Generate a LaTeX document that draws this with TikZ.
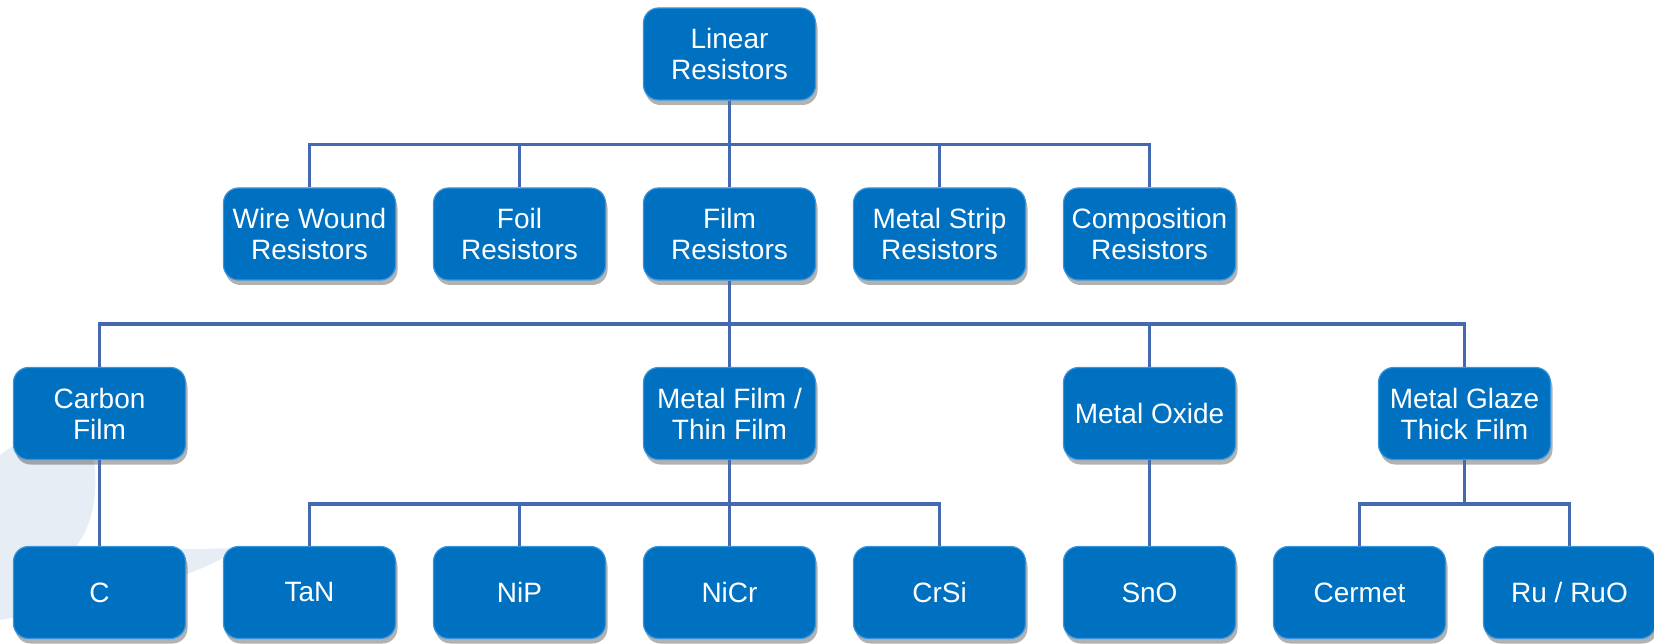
\documentclass[tikz,border=0pt]{standalone}
\usepackage{fontspec}
\setmainfont{Liberation Sans}
\usepackage{tikz}
\usetikzlibrary{shadows}

\definecolor{boxblue}{RGB}{0,112,192}
\definecolor{rimblue}{RGB}{60,150,220}
\definecolor{linkblue}{RGB}{68,105,176}
\definecolor{swoosh}{RGB}{230,237,244}

\begin{document}
\begin{tikzpicture}[
    x=1pt, y=-1pt,
    res/.style={rectangle, rounded corners=15pt, fill=boxblue, draw=rimblue, line width=1.2pt,
        minimum width=172pt, minimum height=92pt, inner sep=0pt, align=center, text=white,
        font=\fontsize{28}{31}\selectfont,
        drop shadow={shadow xshift=2pt, shadow yshift=-5pt, opacity=0.3, fill=black}},
    link/.style={draw=linkblue, line width=3.5pt}
]
\useasboundingbox (0,0) rectangle (1654,644);

% faint background swoosh
\fill[swoosh] (0,455) .. controls (30,430) and (90,420) .. (95,470)
    .. controls (98,510) and (85,540) .. (70,552) -- (240,548)
    .. controls (200,575) and (120,600) .. (0,620) -- cycle;

% Level 0
\node[res] (lin) at (729.5,54) {Linear\\Resistors};

% Level 1
\node[res] (ww)   at (309.5,234)  {Wire Wound\\Resistors};
\node[res] (foil) at (519.5,234)  {Foil\\Resistors};
\node[res] (film) at (729.5,234)  {Film\\Resistors};
\node[res] (ms)   at (939.5,234)  {Metal Strip\\Resistors};
\node[res] (comp) at (1149.5,234) {Composition\\Resistors};

% Level 2
\node[res] (cf)  at (99.5,413.5)   {Carbon\\Film};
\node[res] (mf)  at (729.5,413.5)  {Metal Film /\\Thin Film};
\node[res] (mo)  at (1149.5,413.5) {Metal Oxide};
\node[res] (mg)  at (1464.5,413.5) {Metal Glaze\\Thick Film};

% Level 3
\node[res] (c)    at (99.5,592.5)   {C};
\node[res] (tan)  at (309.5,592.5)  {TaN};
\node[res] (nip)  at (519.5,592.5)  {NiP};
\node[res] (nicr) at (729.5,592.5)  {NiCr};
\node[res] (crsi) at (939.5,592.5)  {CrSi};
\node[res] (sno)  at (1149.5,592.5) {SnO};
\node[res] (cer)  at (1359.5,592.5) {Cermet};
\node[res] (ru)   at (1569.5,592.5) {Ru / RuO};

% Connectors
\foreach \k in {ww,foil,film,ms,comp}
    \draw[link] (lin.south) -- (lin.south |- 0,144.5) -| (\k.north);
\foreach \k in {cf,mf,mo,mg}
    \draw[link] (film.south) -- (film.south |- 0,324) -| (\k.north);
\foreach \k in {tan,nip,nicr,crsi}
    \draw[link] (mf.south) -- (mf.south |- 0,504) -| (\k.north);
\foreach \k in {cer,ru}
    \draw[link] (mg.south) -- (mg.south |- 0,504) -| (\k.north);
\draw[link] (cf.south) -- (c.north);
\draw[link] (mo.south) -- (sno.north);

\end{tikzpicture}
\end{document}
